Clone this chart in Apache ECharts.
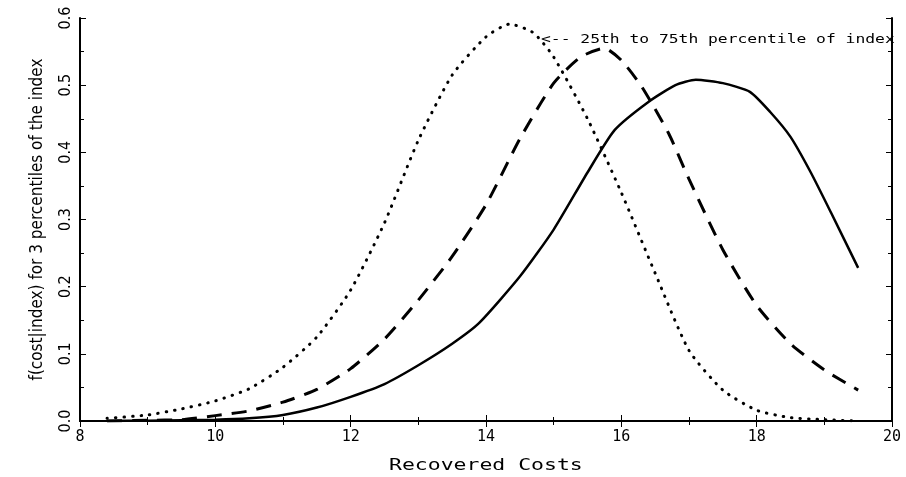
<!DOCTYPE html>
<html>
<head>
<meta charset="utf-8">
<script src="https://cdn.jsdelivr.net/npm/echarts@6/dist/echarts.min.js"></script>
<style>html,body{margin:0;padding:0;background:#fff;}#c{width:906px;height:477px;}</style>
</head>
<body>
<div id="c"></div>
<script>
const xTicks = [8, 10, 12, 14, 16, 18, 20];
const yTicks = [0.0, 0.1, 0.2, 0.3, 0.4, 0.5, 0.6];

const solidCost = [8.4, 9, 10, 10.5, 11, 11.5, 12, 12.5, 13, 13.5, 13.9, 14.5, 15, 15.5, 15.9, 16.4, 16.8, 17.1, 17.5, 17.9, 18.2, 18.5, 18.8, 19.1, 19.5];
const solidDensity = [0, 0.0005, 0.002, 0.004, 0.009, 0.02, 0.036, 0.055, 0.083, 0.115, 0.146, 0.215, 0.285, 0.37, 0.433, 0.475, 0.5, 0.508, 0.503, 0.49, 0.46, 0.423, 0.37, 0.31, 0.228];

const dashCost = [8.4, 9, 9.5, 10, 10.5, 11, 11.5, 12, 12.5, 13, 13.5, 14, 14.5, 15, 15.4, 15.75, 16, 16.3, 16.7, 17, 17.5, 18, 18.5, 19, 19.5];
const dashDensity = [0, 0.001, 0.002, 0.008, 0.015, 0.028, 0.047, 0.078, 0.122, 0.18, 0.245, 0.322, 0.42, 0.503, 0.542, 0.555, 0.537, 0.498, 0.428, 0.36, 0.255, 0.172, 0.115, 0.076, 0.046];

const dotCost = [8.4, 9, 9.5, 10, 10.5, 11, 11.5, 12, 12.5, 13, 13.5, 14, 14.35, 14.7, 15, 15.5, 16, 16.5, 17, 17.5, 18, 18.5, 19, 19.5];
const dotDensity = [0.004, 0.009, 0.018, 0.03, 0.048, 0.08, 0.125, 0.195, 0.295, 0.418, 0.515, 0.572, 0.591, 0.578, 0.542, 0.45, 0.34, 0.22, 0.105, 0.046, 0.016, 0.005, 0.002, 0];

const xName = 'Recovered Costs';
const yName = 'f(cost|index) for 3 percentiles of the index';
const note = '<-- 25th to 75th percentile of index';

function pairs(xs, ys) { return xs.map((x, i) => [x, ys[i]]); }

const narrow = "'DejaVu Sans Condensed', 'Liberation Sans', sans-serif";
const chart = echarts.init(document.getElementById('c'), null, {renderer: 'canvas'});
const axisCommon = {
  type: 'value', min: 8, max: 20, interval: 2,
  axisLine: {show: true, lineStyle: {color: '#000', width: 2}},
  axisTick: {show: true, inside: true, length: 6, lineStyle: {color: '#000', width: 1}},
  minorTick: {show: true, splitNumber: 2, length: 4, lineStyle: {color: '#000', width: 1}},
  splitLine: {show: false}
};
const yCommon = {
  type: 'value', min: 0, max: 0.6, interval: 0.1,
  axisLine: {show: true, lineStyle: {color: '#000', width: 2}},
  axisTick: {show: true, inside: true, length: 6, lineStyle: {color: '#000', width: 1}},
  minorTick: {show: true, splitNumber: 2, length: 4, lineStyle: {color: '#000', width: 1}},
  splitLine: {show: false}
};
chart.setOption({
  animation: false,
  backgroundColor: '#fff',
  grid: {left: 80, right: 14, top: 18, bottom: 56, containLabel: false},
  xAxis: [
    Object.assign({}, axisCommon, {
      position: 'bottom',
      axisLabel: {show: true, color: '#000', fontFamily: 'DejaVu Sans Mono', fontSize: 15, margin: 9,
        formatter: v => xTicks.includes(v) ? String(v) : ''}
    }),
    Object.assign({}, axisCommon, {position: 'top', axisLabel: {show: false}})
  ],
  yAxis: [
    Object.assign({}, yCommon, {
      position: 'left',
      name: yName, nameLocation: 'middle', nameRotate: 90, nameGap: 34,
      nameTextStyle: {color: '#000', fontFamily: narrow, fontSize: 17},
      axisLabel: {show: true, rotate: 90, color: '#000', fontFamily: narrow, fontSize: 16, margin: 6,
        formatter: v => v.toFixed(1)}
    }),
    Object.assign({}, yCommon, {position: 'right', axisLabel: {show: false}})
  ],
  graphic: [
    {type: 'text', x: 389, y: 459, style: {text: xName, fill: '#000', font: '15px "DejaVu Sans Mono"'}, scaleX: 1.43, originX: 0, originY: 0},
    {type: 'text', x: 541, y: 34, style: {text: note, fill: '#000', font: '12px "DejaVu Sans Mono"'}, scaleX: 1.36, originX: 0, originY: 0}
  ],
  series: [
    {type: 'line', data: pairs(solidCost, solidDensity), symbol: 'none', smooth: 0.2,
      lineStyle: {color: '#000', width: 2.5}},
    {type: 'line', data: pairs(dashCost, dashDensity), symbol: 'none', smooth: 0.2,
      lineStyle: {color: '#000', width: 3, type: [15, 10]}},
    {type: 'line', data: pairs(dotCost, dotDensity), symbol: 'none', smooth: 0.2,
      lineStyle: {color: '#000', width: 3, type: [0.5, 8], cap: 'round'}}
  ]
});
</script>
</body>
</html>
